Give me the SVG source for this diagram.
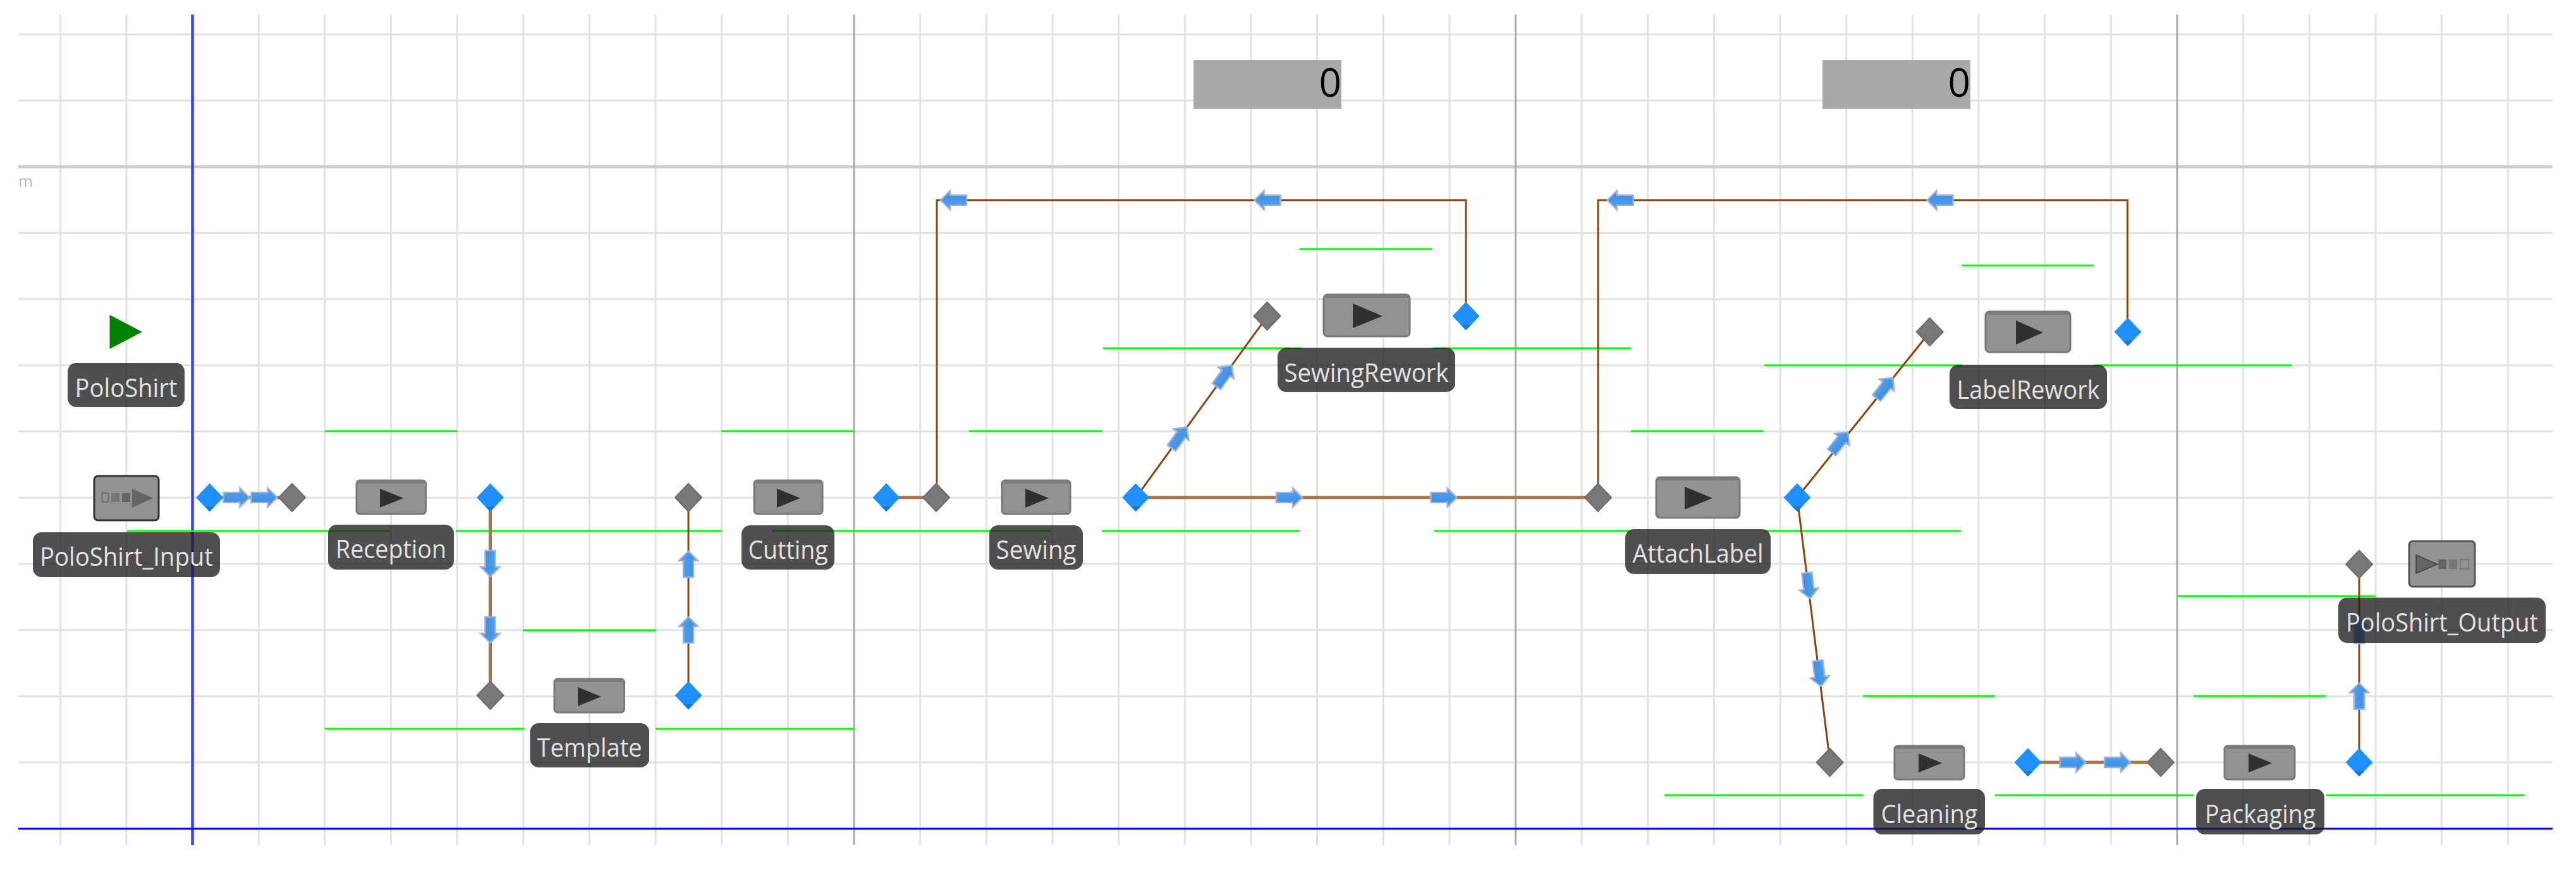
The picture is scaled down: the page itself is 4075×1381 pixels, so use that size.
<svg xmlns="http://www.w3.org/2000/svg" xmlns:xlink="http://www.w3.org/1999/xlink" width="4075" height="1381" viewBox="0 0 4075 1381">
<style>
.grid{fill:none;stroke:#e2e2e2;stroke-width:3}
.major-v{fill:none;stroke:#a9a9a9;stroke-width:3}
.major-h{fill:none;stroke:#cccccc;stroke-width:5}
.guide{fill:none;stroke:#00ff00;stroke-width:3}
.thick{fill:none;stroke:#ab7448;stroke-width:5}
.thin{fill:none;stroke:#8b4513;stroke-width:3}
.box{fill:#929292;stroke:#787878;stroke-width:3}
.edge{fill:none;stroke:#7d7d7d;stroke-width:4}
.play{fill:#303030}
.icon{fill:#646464}
.lab{fill:#1e1e1e;fill-opacity:.78}
.txt{font-family:"Open Sans","Noto Sans",sans-serif;font-size:40px;fill:#e2e2e2;text-anchor:middle}
.counter{fill:#a9a9a9}
.num{font-family:"Open Sans","Noto Sans",sans-serif;font-size:62px;font-weight:400;fill:#000;text-anchor:end}
</style>
<defs>
<linearGradient id="ag" x1="0" y1="0" x2="0" y2="1">
<stop offset="0" stop-color="#6a90c6"/><stop offset=".3" stop-color="#4a9cec"/><stop offset=".7" stop-color="#3f92e4"/><stop offset="1" stop-color="#6a90c6"/>
</linearGradient>
<g id="arr"><path d="M-20,-8 L6,-8 L6,-15 L21,0 L6,15 L6,8 L-20,8 Z" fill="url(#ag)" stroke="#9db2d6" stroke-width="2.500"/></g>
<g id="db"><path d="M0,-22 L21,0 L0,22 L-21,0 Z" fill="#1e90ff" stroke="#1e90ff" stroke-width="1" stroke-linejoin="round"/><path d="M0,22 L-8,14 L8,14 Z" fill="#1a78d2"/></g>
<g id="dg"><path d="M0,-22 L21,0 L0,22 L-21,0 Z" fill="#787878" stroke="#6c6c6c" stroke-width="2" stroke-linejoin="round"/></g>
</defs>
<rect width="4075" height="1381" fill="#ffffff"/>
<g id="grid">
<path class="grid" d="M95.2,23V1337M199.85,23V1337M409.15,23V1337M513.8,23V1337M618.45,23V1337M723.1,23V1337M827.75,23V1337M932.4,23V1337M1037.05,23V1337M1141.7,23V1337M1246.35,23V1337M1455.65,23V1337M1560.3,23V1337M1664.95,23V1337M1769.6,23V1337M1874.25,23V1337M1978.9,23V1337M2083.55,23V1337M2188.2,23V1337M2292.85,23V1337M2502.15,23V1337M2606.8,23V1337M2711.45,23V1337M2816.1,23V1337M2920.75,23V1337M3025.4,23V1337M3130.05,23V1337M3234.7,23V1337M3339.35,23V1337M3548.65,23V1337M3653.3,23V1337M3757.95,23V1337M3862.6,23V1337M3967.25,23V1337"/>
<path class="grid" d="M29,54.4H4038M29,159.1H4038M29,368.5H4038M29,473.2H4038M29,577.9H4038M29,682.6H4038M29,787.3H4038M29,892H4038M29,996.7H4038M29,1101.4H4038M29,1206.1H4038"/>
<path class="major-h" d="M29,263.8H4038"/>
<path class="major-v" d="M1351,23V1337M2397.5,23V1337M3444,23V1337"/>
<path fill="none" stroke="#3c3cff" stroke-width="4.500" d="M304.5,23V1337"/>
<path fill="none" stroke="#0000ff" stroke-width="3" d="M29,1311H4038"/>
<text x="29" y="296" font-family="Open Sans, sans-serif" font-size="25" fill="#bcbcbc">m</text>
</g>
<g id="guides">
<path class="guide" d="M514,682H723M1141,682H1351M1533,682H1743M2580,682H2789"/>
<path class="guide" d="M201,840H617M721,840H1142M1222,840H1663M1743,840H2056M2269,840H2581M2791,840H3102"/>
<path class="guide" d="M1745,551H2059M2266,551H2579M2791,578H3104M3312,578H3625"/>
<path class="guide" d="M2056,394H2265M3103,420H3312M827,997H1037"/>
<path class="guide" d="M514,1153H829M1037,1153H1351M2947,1101H3156M3470,1101H3680"/>
<path class="guide" d="M2633,1258H2947M3156,1258H3470M3680,1258H3993M3445,943H3758"/>
</g>
<g id="connectors">
<path class="thick" d="M332,787H462"/>
<path class="thick" d="M775.5,787V1100"/>
<path class="thin" d="M1089,1100V787"/>
<path class="thick" d="M1402,787H1481"/>
<path class="thick" d="M1797,787H2528"/>
<path class="thin" d="M1797,787L2005,500"/>
<path class="thin" d="M2319,500V316.7H1482V787"/>
<path class="thin" d="M2843,787L3053,525"/>
<path class="thin" d="M3365.5,525V316.7H2528V787"/>
<path class="thin" d="M2843,787L2895,1206"/>
<path class="thick" d="M3208,1206H3418"/>
<path class="thin" d="M3732,1206V893"/>
<use xlink:href="#arr" href="#arr" transform="translate(373.5,787)"/>
<use xlink:href="#arr" href="#arr" transform="translate(417.5,787)"/>
<use xlink:href="#arr" href="#arr" transform="translate(775.5,891) rotate(90)"/>
<use xlink:href="#arr" href="#arr" transform="translate(775.5,996) rotate(90)"/>
<use xlink:href="#arr" href="#arr" transform="translate(1089,893) rotate(-90)"/>
<use xlink:href="#arr" href="#arr" transform="translate(1089,997) rotate(-90)"/>
<use xlink:href="#arr" href="#arr" transform="translate(1509,316.7) rotate(180)"/>
<use xlink:href="#arr" href="#arr" transform="translate(2005.5,316.7) rotate(180)"/>
<use xlink:href="#arr" href="#arr" transform="translate(1865,692.5) rotate(-54)"/>
<use xlink:href="#arr" href="#arr" transform="translate(1936,595) rotate(-54)"/>
<use xlink:href="#arr" href="#arr" transform="translate(2039,787)"/>
<use xlink:href="#arr" href="#arr" transform="translate(2283.5,787)"/>
<use xlink:href="#arr" href="#arr" transform="translate(2563.7,316.7) rotate(180)"/>
<use xlink:href="#arr" href="#arr" transform="translate(3069.5,316.7) rotate(180)"/>
<use xlink:href="#arr" href="#arr" transform="translate(2910,700) rotate(-51.3)"/>
<use xlink:href="#arr" href="#arr" transform="translate(2981,614) rotate(-51.3)"/>
<use xlink:href="#arr" href="#arr" transform="translate(2860.7,926) rotate(83)"/>
<use xlink:href="#arr" href="#arr" transform="translate(2878,1065) rotate(83)"/>
<use xlink:href="#arr" href="#arr" transform="translate(3278.5,1206)"/>
<use xlink:href="#arr" href="#arr" transform="translate(3349,1206)"/>
<use xlink:href="#arr" href="#arr" transform="translate(3732,1101.7) rotate(-90)"/>
<use xlink:href="#arr" href="#arr" transform="translate(3732,998) rotate(-90)"/>
</g>
<g id="points">
<use xlink:href="#db" href="#db" transform="translate(331.6,787)"/>
<use xlink:href="#dg" href="#dg" transform="translate(462,787)"/>
<use xlink:href="#db" href="#db" transform="translate(775.6,787)"/>
<use xlink:href="#dg" href="#dg" transform="translate(1089,787)"/>
<use xlink:href="#dg" href="#dg" transform="translate(775.6,1100)"/>
<use xlink:href="#db" href="#db" transform="translate(1089,1100)"/>
<use xlink:href="#db" href="#db" transform="translate(1402,787)"/>
<use xlink:href="#dg" href="#dg" transform="translate(1481,787)"/>
<use xlink:href="#db" href="#db" transform="translate(1796.6,787)"/>
<use xlink:href="#dg" href="#dg" transform="translate(2004.5,500)"/>
<use xlink:href="#db" href="#db" transform="translate(2319,500)"/>
<use xlink:href="#dg" href="#dg" transform="translate(2528,787)"/>
<use xlink:href="#db" href="#db" transform="translate(2843,787)"/>
<use xlink:href="#dg" href="#dg" transform="translate(3052.7,525)"/>
<use xlink:href="#db" href="#db" transform="translate(3366,525)"/>
<use xlink:href="#dg" href="#dg" transform="translate(2894.6,1206)"/>
<use xlink:href="#db" href="#db" transform="translate(3208,1206)"/>
<use xlink:href="#dg" href="#dg" transform="translate(3418,1206)"/>
<use xlink:href="#db" href="#db" transform="translate(3732,1206)"/>
<use xlink:href="#dg" href="#dg" transform="translate(3732,892.6)"/>
</g>
<g id="counter1"><rect class="counter" x="1888" y="95" width="234" height="77"/><text class="num" x="2122" y="153">0</text></g>
<g id="counter2"><rect class="counter" x="2883" y="95" width="234" height="77"/><text class="num" x="3117" y="153">0</text></g>
<g id="PoloShirt">
<path d="M173.5,498 L225,525 L173.5,552 Z" fill="#008000"/>
<rect class="lab" x="107" y="574" width="185" height="70" rx="14"/>
<text class="txt" x="199.5" y="628" textLength="162" lengthAdjust="spacingAndGlyphs">PoloShirt</text>
</g>
<g id="PoloShirt_Input">
<rect x="149" y="753" width="102" height="70" rx="6" fill="#929292" stroke="#333333" stroke-width="3"/>
<rect x="161.5" y="780" width="10" height="14" fill="none" stroke="#6e6e6e" stroke-width="2"/>
<rect x="176" y="780" width="13" height="14" class="icon" fill-opacity=".6"/>
<rect x="193" y="780" width="13" height="14" class="icon"/>
<path class="icon" d="M209,773 L242,788 L209,803 Z"/>
<rect class="lab" x="52" y="842" width="296" height="71" rx="14"/>
<text class="txt" x="200" y="895" textLength="274" lengthAdjust="spacingAndGlyphs">PoloShirt_Input</text>
</g>
<g id="Reception">
<rect class="box" x="564" y="760" width="109.500" height="53" rx="5"/><path class="edge" d="M567,763H671"/>
<path class="play" d="M601,773 L638,788 L601,803 Z"/>
<rect class="lab" x="519" y="830" width="199" height="71" rx="14"/>
<text class="txt" x="618.500" y="883" textLength="175" lengthAdjust="spacingAndGlyphs">Reception</text>
</g>
<g id="Template">
<rect class="box" x="877" y="1074" width="110.500" height="53" rx="5"/><path class="edge" d="M880,1077H985"/>
<path class="play" d="M914,1087 L951,1102 L914,1117 Z"/>
<rect class="lab" x="838.500" y="1144" width="188.500" height="70" rx="14"/>
<text class="txt" x="932.500" y="1197" textLength="166" lengthAdjust="spacingAndGlyphs">Template</text>
</g>
<g id="Cutting">
<rect class="box" x="1193" y="760" width="108" height="53" rx="5"/><path class="edge" d="M1196,763H1299"/>
<path class="play" d="M1229,773 L1266,788 L1229,803 Z"/>
<rect class="lab" x="1173" y="831" width="147" height="70" rx="14"/>
<text class="txt" x="1246.500" y="884" textLength="126" lengthAdjust="spacingAndGlyphs">Cutting</text>
</g>
<g id="Sewing">
<rect class="box" x="1585" y="760" width="108" height="53" rx="5"/><path class="edge" d="M1588,763H1691"/>
<path class="play" d="M1622,773 L1659,788 L1622,803 Z"/>
<rect class="lab" x="1565" y="831" width="148" height="70" rx="14"/>
<text class="txt" x="1639" y="884" textLength="127" lengthAdjust="spacingAndGlyphs">Sewing</text>
</g>
<g id="SewingRework">
<rect class="box" x="2094" y="466" width="136" height="66" rx="6"/><path class="edge" d="M2097,469H2228"/>
<path class="play" d="M2140,480 L2187,500 L2140,519 Z"/>
<rect class="lab" x="2021" y="550" width="281" height="70" rx="14"/>
<text class="txt" x="2161.500" y="604" textLength="260" lengthAdjust="spacingAndGlyphs">SewingRework</text>
</g>
<g id="AttachLabel">
<rect class="box" x="2620" y="755" width="132" height="64" rx="6"/><path class="edge" d="M2623,758H2750"/>
<path class="play" d="M2665,770 L2709,788 L2665,806 Z"/>
<rect class="lab" x="2571" y="837" width="230" height="71" rx="14"/>
<text class="txt" x="2686" y="890" textLength="207" lengthAdjust="spacingAndGlyphs">AttachLabel</text>
</g>
<g id="LabelRework">
<rect class="box" x="3141" y="493" width="134" height="64" rx="6"/><path class="edge" d="M3144,496H3273"/>
<path class="play" d="M3189,507 L3232,526 L3189,545 Z"/>
<rect class="lab" x="3084" y="577" width="249" height="70" rx="14"/>
<text class="txt" x="3208.500" y="631" textLength="226" lengthAdjust="spacingAndGlyphs">LabelRework</text>
</g>
<g id="Cleaning">
<rect class="box" x="2997" y="1180" width="110" height="53" rx="5"/><path class="edge" d="M3000,1183H3105"/>
<path class="play" d="M3035,1192 L3072,1207 L3035,1222 Z"/>
<rect class="lab" x="2963.500" y="1248" width="176.500" height="72" rx="14"/>
<text class="txt" x="3052" y="1302" textLength="153" lengthAdjust="spacingAndGlyphs">Cleaning</text>
</g>
<g id="Packaging">
<rect class="box" x="3519" y="1180" width="111" height="53" rx="5"/><path class="edge" d="M3522,1183H3628"/>
<path class="play" d="M3557,1192 L3594,1207 L3557,1222 Z"/>
<rect class="lab" x="3474" y="1248" width="203" height="72" rx="14"/>
<text class="txt" x="3575.500" y="1302" textLength="175" lengthAdjust="spacingAndGlyphs">Packaging</text>
</g>
<g id="PoloShirt_Output">
<rect x="3811" y="856" width="104" height="72" rx="6" fill="#929292" stroke="#555555" stroke-width="3"/>
<path d="M3822,878 L3856,892.500 L3822,907 Z" fill="#646464" stroke="#444444" stroke-width="1.500"/>
<rect x="3857.500" y="885" width="12.500" height="15" class="icon"/>
<rect x="3874" y="885" width="13" height="15" class="icon" fill-opacity=".6"/>
<rect x="3892" y="885" width="13" height="15" fill="none" stroke="#7a7a7a" stroke-width="2"/>
<rect class="lab" x="3699" y="945.500" width="328" height="71.500" rx="14"/>
<text class="txt" x="3863" y="999" textLength="304" lengthAdjust="spacingAndGlyphs">PoloShirt_Output</text>
</g>
</svg>
